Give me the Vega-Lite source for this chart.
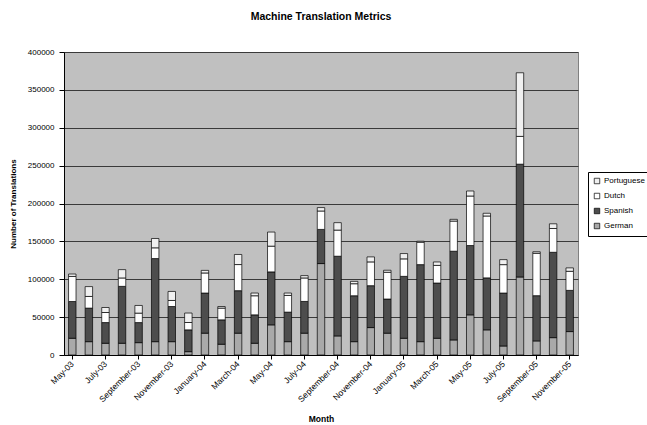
{
  "$schema": "https://vega.github.io/schema/vega-lite/v6.json",
  "autosize": {"type": "none"},
  "width": 514,
  "height": 303,
  "padding": {"left": 64, "top": 52, "right": 69, "bottom": 70},
  "background": "white",
  "title": {"text": "Machine Translation Metrics", "font": "Liberation Sans", "fontSize": 10.5, "fontWeight": "bold", "color": "#000", "offset": 26},
  "data": {"values": [
    {"month": "May-03", "German": 22100, "Spanish": 48500, "Dutch": 33100, "Portuguese": 3200},
    {"month": "June-03", "German": 17600, "Spanish": 44300, "Dutch": 15400, "Portuguese": 13000},
    {"month": "July-03", "German": 15500, "Spanish": 27300, "Dutch": 13300, "Portuguese": 6600},
    {"month": "August-03", "German": 15500, "Spanish": 75100, "Dutch": 11100, "Portuguese": 11000},
    {"month": "September-03", "German": 16300, "Spanish": 26500, "Dutch": 12500, "Portuguese": 10100},
    {"month": "October-03", "German": 17600, "Spanish": 109700, "Dutch": 14200, "Portuguese": 12300},
    {"month": "November-03", "German": 17600, "Spanish": 46400, "Dutch": 8000, "Portuguese": 11900},
    {"month": "December-03", "German": 4400, "Spanish": 28800, "Dutch": 9700, "Portuguese": 12500},
    {"month": "January-04", "German": 28800, "Spanish": 53000, "Dutch": 26500, "Portuguese": 3400},
    {"month": "February-04", "German": 14200, "Spanish": 32200, "Dutch": 15500, "Portuguese": 2100},
    {"month": "March-04", "German": 28800, "Spanish": 56100, "Dutch": 34500, "Portuguese": 13300},
    {"month": "April-04", "German": 15500, "Spanish": 37500, "Dutch": 25200, "Portuguese": 3600},
    {"month": "May-04", "German": 39800, "Spanish": 69900, "Dutch": 34000, "Portuguese": 18600},
    {"month": "June-04", "German": 17600, "Spanish": 39000, "Dutch": 22000, "Portuguese": 3200},
    {"month": "July-04", "German": 28800, "Spanish": 41900, "Dutch": 31000, "Portuguese": 3100},
    {"month": "August-04", "German": 120700, "Spanish": 45100, "Dutch": 24300, "Portuguese": 4500},
    {"month": "September-04", "German": 25200, "Spanish": 105200, "Dutch": 34500, "Portuguese": 9800},
    {"month": "October-04", "German": 17600, "Spanish": 60600, "Dutch": 15900, "Portuguese": 3100},
    {"month": "November-04", "German": 36200, "Spanish": 55300, "Dutch": 31400, "Portuguese": 6600},
    {"month": "December-04", "German": 28800, "Spanish": 45100, "Dutch": 35300, "Portuguese": 2700},
    {"month": "January-05", "German": 22100, "Spanish": 81700, "Dutch": 23100, "Portuguese": 7000},
    {"month": "February-05", "German": 17600, "Spanish": 101700, "Dutch": 29600, "Portuguese": 1300},
    {"month": "March-05", "German": 22100, "Spanish": 72900, "Dutch": 23300, "Portuguese": 4500},
    {"month": "April-05", "German": 19900, "Spanish": 117100, "Dutch": 39800, "Portuguese": 2300},
    {"month": "May-05", "German": 53000, "Spanish": 91500, "Dutch": 65400, "Portuguese": 6600},
    {"month": "June-05", "German": 33200, "Spanish": 68600, "Dutch": 81700, "Portuguese": 3600},
    {"month": "July-05", "German": 11900, "Spanish": 69900, "Dutch": 37500, "Portuguese": 6600},
    {"month": "August-05", "German": 103000, "Spanish": 148900, "Dutch": 36700, "Portuguese": 84000},
    {"month": "September-05", "German": 18600, "Spanish": 59700, "Dutch": 56000, "Portuguese": 2000},
    {"month": "October-05", "German": 22900, "Spanish": 112700, "Dutch": 31400, "Portuguese": 6200},
    {"month": "November-05", "German": 30900, "Spanish": 54400, "Dutch": 25200, "Portuguese": 4500}
  ]},
  "transform": [
    {"fold": ["German", "Spanish", "Dutch", "Portuguese"], "as": ["language", "translations"]},
    {"calculate": "indexof(['German','Spanish','Dutch','Portuguese'], datum.language)", "as": "stackOrder"}
  ],
  "mark": {"type": "bar", "stroke": "#000", "strokeWidth": 0.7},
  "encoding": {
    "x": {
      "field": "month", "type": "nominal", "sort": null,
      "scale": {"paddingInner": 0.55, "paddingOuter": 0.275},
      "axis": {
        "title": "Month",
        "values": ["May-03", "July-03", "September-03", "November-03", "January-04", "March-04", "May-04", "July-04", "September-04", "November-04", "January-05", "March-05", "May-05", "July-05", "September-05", "November-05"],
        "labelAngle": -45, "labelAlign": "right", "labelBaseline": "middle",
        "labelFont": "Liberation Sans", "labelFontSize": 8.5, "labelColor": "#000",
        "labelPadding": 3,
        "titleFont": "Liberation Sans", "titleFontSize": 8.5, "titleFontWeight": "bold", "titleColor": "#000",
        "titleY": 59,
        "domainColor": "#000", "tickColor": "#000", "tickSize": 4
      }
    },
    "y": {
      "field": "translations", "type": "quantitative", "stack": "zero",
      "scale": {"domain": [0, 400000], "nice": false},
      "axis": {
        "title": "Number of Translations",
        "values": [0, 50000, 100000, 150000, 200000, 250000, 300000, 350000, 400000],
        "format": "d",
        "labelFont": "Liberation Sans", "labelFontSize": 8, "labelColor": "#000", "labelPadding": 5,
        "titleFont": "Liberation Sans", "titleFontSize": 8, "titleFontWeight": "bold", "titleColor": "#000",
        "titlePadding": 10,
        "grid": true, "gridColor": "#3a3a3a", "gridWidth": 1,
        "domainColor": "#000", "tickColor": "#000", "tickSize": 5
      }
    },
    "color": {
      "field": "language", "type": "nominal",
      "scale": {"domain": ["Portuguese", "Dutch", "Spanish", "German"], "range": ["#f0f0f0", "#ffffff", "#4d4d4d", "#a9a9a9"]},
      "legend": {
        "title": null, "orient": "none", "legendX": 524, "legendY": 120,
        "fillColor": "#fff", "strokeColor": "#000", "padding": 5,
        "labelFont": "Liberation Sans", "labelFontSize": 8, "labelColor": "#000",
        "symbolType": "square", "symbolSize": 30, "symbolStrokeColor": "#000", "symbolStrokeWidth": 0.7,
        "rowPadding": 5, "labelOffset": 3
      }
    },
    "order": {"field": "stackOrder", "type": "quantitative"}
  },
  "config": {
    "view": {"fill": "#c0c0c0", "stroke": "#808080"},
    "font": "Liberation Sans"
  }
}
